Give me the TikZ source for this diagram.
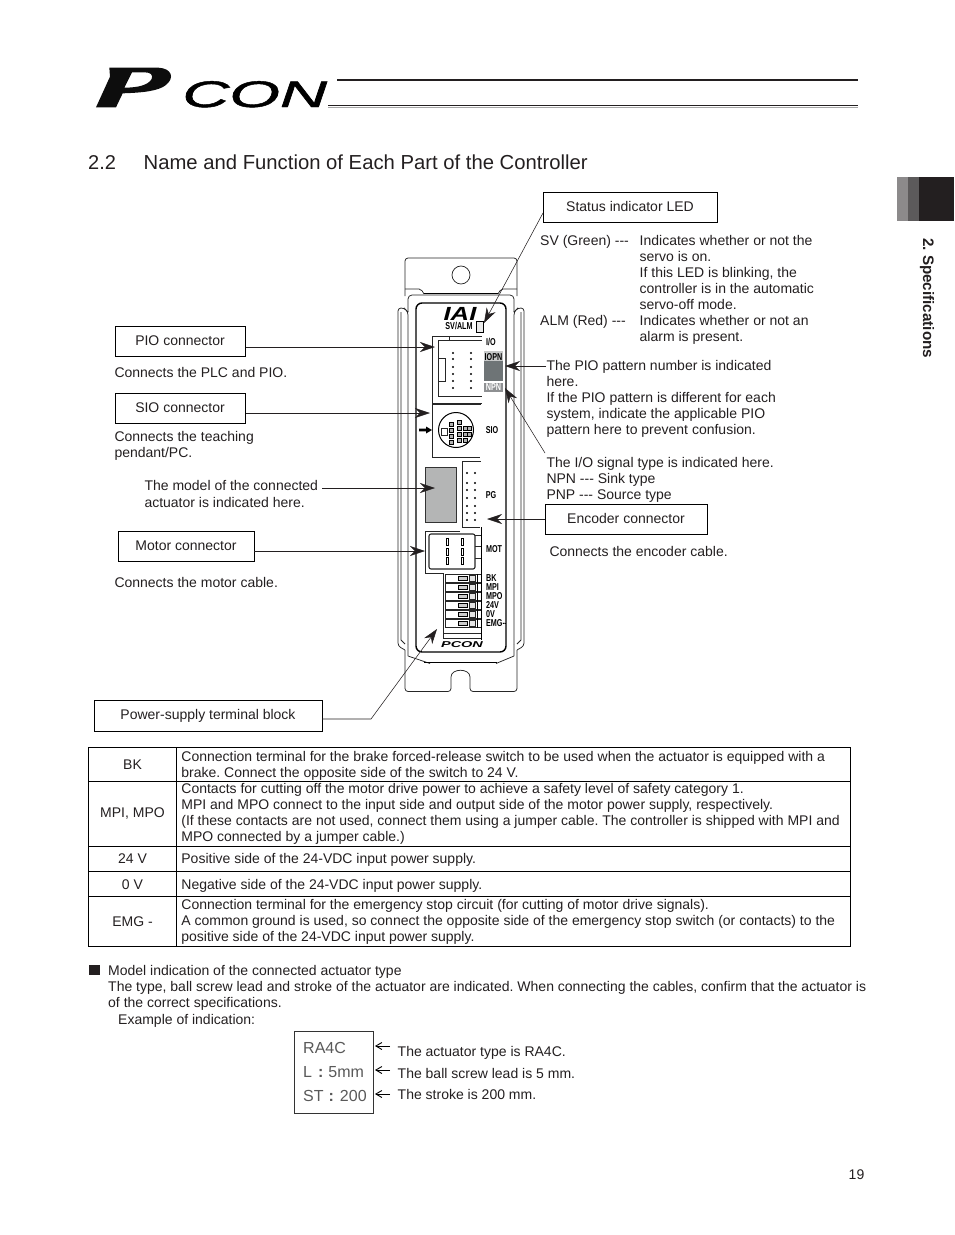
\documentclass[tikz,border=0pt]{standalone}
\usepackage{fontspec}
\setmainfont{Liberation Sans}
\usetikzlibrary{arrows.meta}
\frenchspacing
\definecolor{ink}{HTML}{231F20}
\definecolor{tabA}{HTML}{8C8A8B}
\definecolor{tabB}{HTML}{5C5A5B}
\definecolor{winG}{HTML}{B4B5B5}
\definecolor{dispA}{HTML}{C6C8C8}
\definecolor{dispB}{HTML}{6E7476}
\definecolor{dispC}{HTML}{8E9092}
\newfontfamily\logofont[ItalicFont={Liberation Sans Italic},ItalicFeatures={FakeBold=1.2}]{Liberation Sans}
\tikzset{
 x=1pt,y=-1pt,
 txt/.style={anchor=north west,inner sep=0pt,align=left,text=ink,font=\fontsize{14}{16}\selectfont,execute at begin node=\strut},
 ctxt/.style={anchor=center,inner sep=0pt,text=ink,font=\fontsize{14}{16}\selectfont},
 lab/.style={draw=black,line width=.8pt,inner sep=0pt,text=ink,font=\fontsize{14}{16}\selectfont},
 tag/.style={anchor=center,inner sep=0pt,text=black,font=\fontsize{10}{10}\selectfont\bfseries,xscale=.72},
 lead/.style={draw=ink,line width=.55pt,-{Stealth[length=15pt,width=10pt]}},
 tabline/.style={draw=black,line width=.6pt},
 dev/.style={draw=black!85,line width=.75pt},
 devk/.style={draw=black,line width=1.4pt},
 smallarr/.style={draw=black,line width=.9pt,-{Straight Barb[length=6pt,width=7pt]}},
 mdl/.style={anchor=base west,inner sep=0pt,text=black!65,font=\fontsize{16}{18}\selectfont},
}
\begin{document}
\begin{tikzpicture}
\useasboundingbox (0,0) rectangle (954,1235);
% header logo
\begin{scope}[shift={(80,55)},x=.3333pt,y=-.3333pt]
\fill[even odd rule,fill=black!95] (48,157) -- (90,65) -- (88,38) -- (235,38) .. controls (275,40) and (285,68) .. (258,90) .. controls (235,108) and (190,113) .. (128,115) -- (108,157) -- cycle
 (156,52) -- (133,98) .. controls (175,98) and (205,90) .. (215,72) .. controls (220,60) and (212,52) .. (195,52) -- cycle;
\end{scope}
\node[anchor=base west,inner sep=0pt,font=\logofont\fontsize{37}{37}\selectfont\itshape,xscale=1.76,text=black] (logocon) at (182,107) {CON};
\fill[ink] (337,79) rectangle (858,81);
\fill[ink] (328,104.5) rectangle (858,106);
\fill[black!35] (328,106.5) rectangle (858,107.3);
% title
\node[anchor=base west,inner sep=0pt,text=ink,font=\fontsize{20}{24}\selectfont] (secno) at (88,169) {2.2};
\node[anchor=base west,inner sep=0pt,text=ink,font=\fontsize{20.27}{24}\selectfont] (sectitle) at (143.5,169) {Name and Function of Each Part of the Controller};
% side tab
\fill[tabA] (897,177) rectangle (908,221);
\fill[tabB] (908,177) rectangle (919,221);
\fill[ink] (919,177) rectangle (954,221);
\node[rotate=-90,anchor=west,inner sep=0pt,text=ink,font=\fontsize{15.2}{16}\selectfont\bfseries] (sidetxt) at (927,238) {2. Specifications};
% ---------- device
\draw[dev,rounded corners=3pt] (405,296) -- (405,258) -- (517,258) -- (517,296);
\draw[dev,rounded corners=2pt] (405,289) -- (421,289) -- (424,294);
\draw[dev,rounded corners=2pt] (517,289) -- (501,289) -- (498,294);
\draw[dev,rounded corners=4pt] (408,312) -- (408,295) -- (514,295) -- (514,312);
\draw[line width=1.4pt] (424,293.5) -- (498,293.5);
\draw[dev] (461,275) circle (9);
\draw[dev,rounded corners=3pt] (405,650) -- (398,646) -- (398,308) -- (404,308) -- (408,312) -- (408,644);
\draw[dev] (401,312) -- (401,640) -- (405,644);
\draw[dev,rounded corners=3pt] (517,650) -- (524,646) -- (524,308) -- (518,308) -- (514,312) -- (514,644);
\draw[dev] (521,312) -- (521,640) -- (517,644);
\draw[dev,rounded corners=3pt] (405,650) -- (405,691.5) -- (451,691.5) -- (451,680) .. controls (451,668) and (470,668) .. (470,680) -- (470,691.5) -- (517,691.5) -- (517,650);
\draw[dev] (408,656) -- (430,663.5) (514,656) -- (496,663.5) (408,656) -- (408,644) (514,656) -- (514,644);
\draw[line width=1.4pt] (424,662.5) -- (497,662.5);
\draw[devk,rounded corners=6pt] (416,652) -- (416,303) -- (506,303) -- (506,652) -- cycle;
% IAI + LED
\node[anchor=base,inner sep=0pt,font=\fontsize{19}{19}\selectfont\bfseries\itshape,xscale=1.35] (iai) at (460,320) {IAI};
\node[tag] (svalm) at (459,326) {SV/ALM};
\draw[line width=.9pt,fill=black!8] (476,321) rectangle (483,332);
% PIO connector
\draw[dev] (482,336) -- (432,336) -- (432,403) -- (482,403);
\draw[dev] (482,340) -- (438,340) -- (438,396) -- (482,396) (449,336) -- (449,340);
\draw[dev] (438,358) -- (445,358) -- (445,381) -- (438,381);
\foreach \px in {453,471} \foreach \py in {353,359,367,374,381,388} \fill (\px,\py) circle (1.1);
% SIO
\draw[dev] (481,404) -- (432,404) -- (432,457) -- (480,457);
\draw[line width=1pt] (456,430) circle (17.5);
\draw[dev] (441,428) rectangle (447,435);
\foreach \qx/\qy in {449/422,449/428,449/434,457/420,457/426,457/432,457/438,463/426,467/426,463/432,467/432,463/438,449/440}
  \draw[line width=.8pt,fill=black!30] (\qx,\qy) rectangle +(4,4);
\fill (419,428.7) rectangle (426,431.3) (426,426.5) -- (432,430) -- (426,433.5) -- cycle;
% model window
\fill[winG,draw=black!80,line width=.5pt] (425,467) rectangle (456,522);
% PG
\draw[dev] (462,461) -- (462,527) -- (480,527) (462,461) -- (481,461);
\foreach \py in {473,483,490,498,506,513,520} \foreach \px in {467,475} \fill (\px,\py) circle (1.1);
% MOT
\draw[dev,line width=1pt] (460,531) -- (425,531) -- (425,573) -- (443,573);
\draw[dev,line width=1.1pt,rounded corners=2pt,fill=white] (429,534) rectangle (475,569);
\foreach \sx in {447,462} \foreach \sy in {538,548,557} \draw[line width=.6pt] (\sx-1,\sy) rectangle (\sx+1,\sy+7);
\draw[dev] (475,535) -- (481,535) (475,546) -- (481,546) (475,558) -- (481,558);
% terminal block
\draw[dev] (443.5,573) -- (443.5,638) -- (481,638) (443.5,633) -- (481,633);
\foreach \ry in {574,583,592,601,610,619} {
 \draw[dev] (445,\ry) rectangle (481,\ry+8.5);
 \draw[line width=.7pt,fill=black!20] (458,\ry+2.2) rectangle (467,\ry+6.5);
 \draw[dev,fill=black!10] (469,\ry+1.8) rectangle (475,\ry+7);
 \draw[line width=.9pt] (477,\ry) -- (477,\ry+8.5);
}
\draw[line width=1pt] (481,527) -- (481,640);
% device labels
\node[tag] (tio) at (491,342) {I/O};
\fill[dispA] (484,351) rectangle (503,361);
\fill[dispB] (484,361) rectangle (503,381);
\node[tag] (tiopn) at (493.5,357) {IOPN};
\fill[dispC] (484,383) rectangle (503,392);
\node[tag,text=white] (tnpn) at (493.5,387.5) {NPN};
\node[tag] (tsio) at (492,430) {SIO};
\node[tag] (tpg) at (491,495) {PG};
\node[tag] (tmot) at (494,549) {MOT};
\node[tag,anchor=west] (t1) at (486,578) {BK};
\node[tag,anchor=west] (t2) at (486,587) {MPI};
\node[tag,anchor=west] (t3) at (486,596) {MPO};
\node[tag,anchor=west] (t4) at (486,605) {24V};
\node[tag,anchor=west] (t5) at (486,614) {0V};
\node[tag,anchor=west] (t6) at (486,623) {EMG-};
\draw[line width=.7pt] (t6.east) -- (506,623);
\node[anchor=center,inner sep=0pt,font=\fontsize{8.5}{9}\selectfont\bfseries\itshape,xscale=1.7] (pconb) at (462,645) {PCON};
% ---------- callout boxes
\node[lab,minimum width=174pt,minimum height=30pt] (status) at (630,207) {\raisebox{.7pt}{Status indicator LED}};
\node[lab,minimum width=130pt,minimum height=30pt] (pio) at (180,341) {PIO connector};
\node[lab,minimum width=130pt,minimum height=30pt] (sio) at (180,408) {SIO connector};
\node[lab,minimum width=136pt,minimum height=30pt] (motor) at (186,546) {Motor connector};
\node[lab,minimum width=162pt,minimum height=30pt] (encoder) at (626,519) {\raisebox{.7pt}{Encoder connector}};
\node[lab,minimum width=228pt,minimum height=31pt] (power) at (208,715.5) {Power-supply terminal block};
% ---------- callout texts
\node[txt] (sv) at (540,234.4) {SV (Green) -{}-{}-};
\node[txt] (svd) at (639.5,234.7) {Indicates whether or not the\\servo is on.\\If this LED is blinking, the\\controller is in the automatic\\servo-off mode.\\Indicates whether or not an\\alarm is present.};
\node[txt] (alm) at (540,314.4) {ALM (Red) -{}-{}-};
\node[txt] (piod) at (546.3,360) {The PIO pattern number is indicated\\here.\\If the PIO pattern is different for each\\system, indicate the applicable PIO\\pattern here to prevent confusion.};
\node[txt] (iod) at (546.3,457) {The I/O signal type is indicated here.\\NPN -{}-{}- Sink type\\PNP -{}-{}- Source type};
\node[txt] (encd) at (549.3,545) {Connects the encoder cable.};
\node[txt] (piot) at (114.3,366) {Connects the PLC and PIO.};
\node[txt] (siot) at (114.3,431) {Connects the teaching\\pendant/PC.};
\node[txt] (modelt) at (144.3,480) {The model of the connected\\[1.5pt]actuator is indicated here.};
\node[txt] (mott) at (114.3,576) {Connects the motor cable.};
% ---------- leaders
\coordinate (aled) at (484,323);
\coordinate (apio) at (435,347);
\coordinate (asio) at (430,413);
\coordinate (amod) at (435,488);
\coordinate (amot) at (425,551);
\coordinate (aenc) at (487,519);
\coordinate (aiopn) at (505,366);
\coordinate (anpn) at (505,388);
\coordinate (apow) at (437,629);
\coordinate (spio) at (246,347);
\coordinate (ssio) at (246,413);
\coordinate (smod) at (322,488);
\coordinate (smot) at (254,551);
\coordinate (sled) at (543,213);
\coordinate (siopn) at (546,366);
\coordinate (snpn) at (545,453);
\coordinate (spow) at (322,719);
\coordinate (kpow) at (371,719);
\draw[lead] (sled) -- (aled);
\draw[lead] (spio) -- (apio);
\draw[lead] (ssio) -- (asio);
\draw[lead] (smod) -- (amod);
\draw[lead] (smot) -- (amot);
\draw[lead] (encoder.west) -- (aenc);
\draw[lead] (siopn) -- (aiopn);
\draw[lead] (snpn) -- (anpn);
\draw[lead] (spow) -- (kpow) -- (apow);
% ---------- table
\draw[tabline] (88,747) rectangle (850,946);
\draw[tabline] (176,747) -- (176,946);
\foreach \ty in {781,846,871,896} \draw[tabline] (88,\ty) -- (850,\ty);
\node[ctxt] (k1) at (132.5,764.5) {BK};
\node[ctxt] (k2) at (132.5,813.5) {MPI, MPO};
\node[ctxt] (k3) at (132.5,858.5) {24 V};
\node[ctxt] (k4) at (132.5,884.5) {0 V};
\node[ctxt] (k5) at (132.5,921.5) {EMG -};
\node[txt] (d1) at (181.2,751) {Connection terminal for the brake forced-release switch to be used when the actuator is equipped with a\\brake. Connect the opposite side of the switch to 24 V.};
\node[txt] (d2) at (181.2,783) {Contacts for cutting off the motor drive power to achieve a safety level of safety category 1.\\MPI and MPO connect to the input side and output side of the motor power supply, respectively.\\(If these contacts are not used, connect them using a jumper cable. The controller is shipped with MPI and\\MPO connected by a jumper cable.)};
\node[txt] (d3) at (181.2,852) {Positive side of the 24-VDC input power supply.};
\node[txt] (d4) at (181.2,878) {Negative side of the 24-VDC input power supply.};
\node[txt] (d5) at (181.2,899) {Connection terminal for the emergency stop circuit (for cutting of motor drive signals).\\A common ground is used, so connect the opposite side of the emergency stop switch (or contacts) to the\\positive side of the 24-VDC input power supply.};
% ---------- model note
\fill[ink] (89,965) rectangle (100,975);
\node[txt] (note) at (108,965) {Model indication of the connected actuator type\\The type, ball screw lead and stroke of the actuator are indicated. When connecting the cables, confirm that the actuator is\\of the correct specifications.};
\node[txt] (ex) at (118,1013) {Example of indication:};
\node[draw=black!80,line width=.6pt,minimum width=79pt,minimum height=82pt,inner sep=0pt] (mbox) at (333.5,1072) {};
\node[mdl] (m1) at (303,1053) {RA4C};
\node[mdl] (m2) at (303,1077) {L\hspace{6pt}\textbf{:}\hspace{5pt}5mm};
\node[mdl] (m3) at (303,1101) {ST\hspace{5pt}\textbf{:}\hspace{6pt}200};
\node[txt] (e1) at (397.5,1045) {The actuator type is RA4C.};
\node[txt] (e2) at (397.5,1067) {The ball screw lead is 5 mm.};
\node[txt] (e3) at (397.5,1088) {The stroke is 200 mm.};
\coordinate (b1) at (375,1046);
\coordinate (b2) at (375,1070);
\coordinate (b3) at (375,1094);
\coordinate (c1) at (390,1046);
\coordinate (c2) at (390,1070);
\coordinate (c3) at (390,1094);
\draw[smallarr] (c1) -- (b1);
\draw[smallarr] (c2) -- (b2);
\draw[smallarr] (c3) -- (b3);
\node[ctxt] (pgno) at (856.5,1175) {19};
\end{tikzpicture}
\end{document}
